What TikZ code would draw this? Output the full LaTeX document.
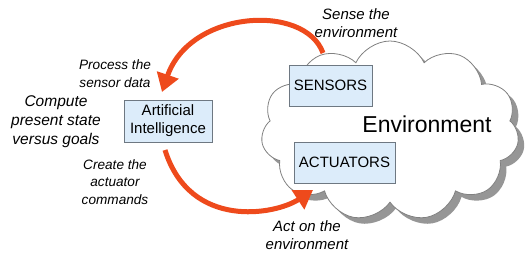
\documentclass[tikz,border=0pt]{standalone}
\usepackage{fontspec}
\setmainfont{Liberation Sans}
\usetikzlibrary{shapes.symbols,arrows.meta}
\definecolor{arrowred}{RGB}{238,74,28}
\definecolor{boxfill}{RGB}{220,236,250}
\definecolor{boxline}{RGB}{110,120,130}
\definecolor{cloudline}{RGB}{128,128,128}
\definecolor{cloudshadow}{RGB}{150,150,150}
\begin{document}
\begin{tikzpicture}[x=1pt,y=-1pt,
  box/.style={draw=boxline, fill=boxfill, line width=0.8pt, inner sep=0pt,
    font=\fontsize{15}{18}\selectfont, align=center},
  lbl/.style={font=\fontsize{15}{18.5}\selectfont\itshape, align=center, inner sep=0pt},
  slbl/.style={font=\fontsize{13.6}{17.5}\selectfont\itshape, align=center, inner sep=0pt},
  envcloud/.style={cloud, cloud puffs=11, cloud puff arc=130, aspect=1.43, minimum width=258pt,
    minimum height=180pt, inner sep=0pt},
  bigarrow/.style={draw=arrowred, line width=5pt, -{Triangle[width=22pt,length=18pt]}},
]
\useasboundingbox (0,0) rectangle (530,257);
% cloud with shadow
\node[envcloud, fill=cloudshadow, draw=none] (envshadow) at (396,137) {};
\node[envcloud, fill=white, draw=cloudline, line width=0.8pt] (env) at (390,131) {};
\node[font=\fontsize{23}{26}\selectfont] (envlabel) at (427,124) {Environment};
% boxes
\node[box, minimum width=88pt, minimum height=42pt] (ai) at (168,121) {Artificial\\Intelligence};
\node[box, minimum width=83pt, minimum height=41pt] (sensors) at (330.5,85.5) {SENSORS};
\node[box, minimum width=101pt, minimum height=41pt] (actuators) at (344.5,162.5) {ACTUATORS};
% labels
\node[lbl] (sense) at (356,23) {Sense the\\environment};
\node[lbl] (act) at (307,235) {Act on the\\environment};
\node[lbl, font=\fontsize{15.5}{19}\selectfont\itshape] (compute) at (56,122) {Compute\\present state\\versus goals};
\node[slbl] (process) at (115,73.5) {Process the\\sensor data};
\node[slbl] (create) at (115,182) {Create the\\actuator\\commands};
% arrows
\coordinate (senseTail) at (323,53);
\coordinate (aiIn) at (162,92);
\coordinate (aiOut) at (165,150);
\coordinate (actIn) at (313,190);
\draw[bigarrow] (senseTail) .. controls (305,3) and (190,10) .. (aiIn);
\draw[bigarrow] (aiOut) .. controls (190,230) and (275,215) .. (actIn);
\end{tikzpicture}
\end{document}
